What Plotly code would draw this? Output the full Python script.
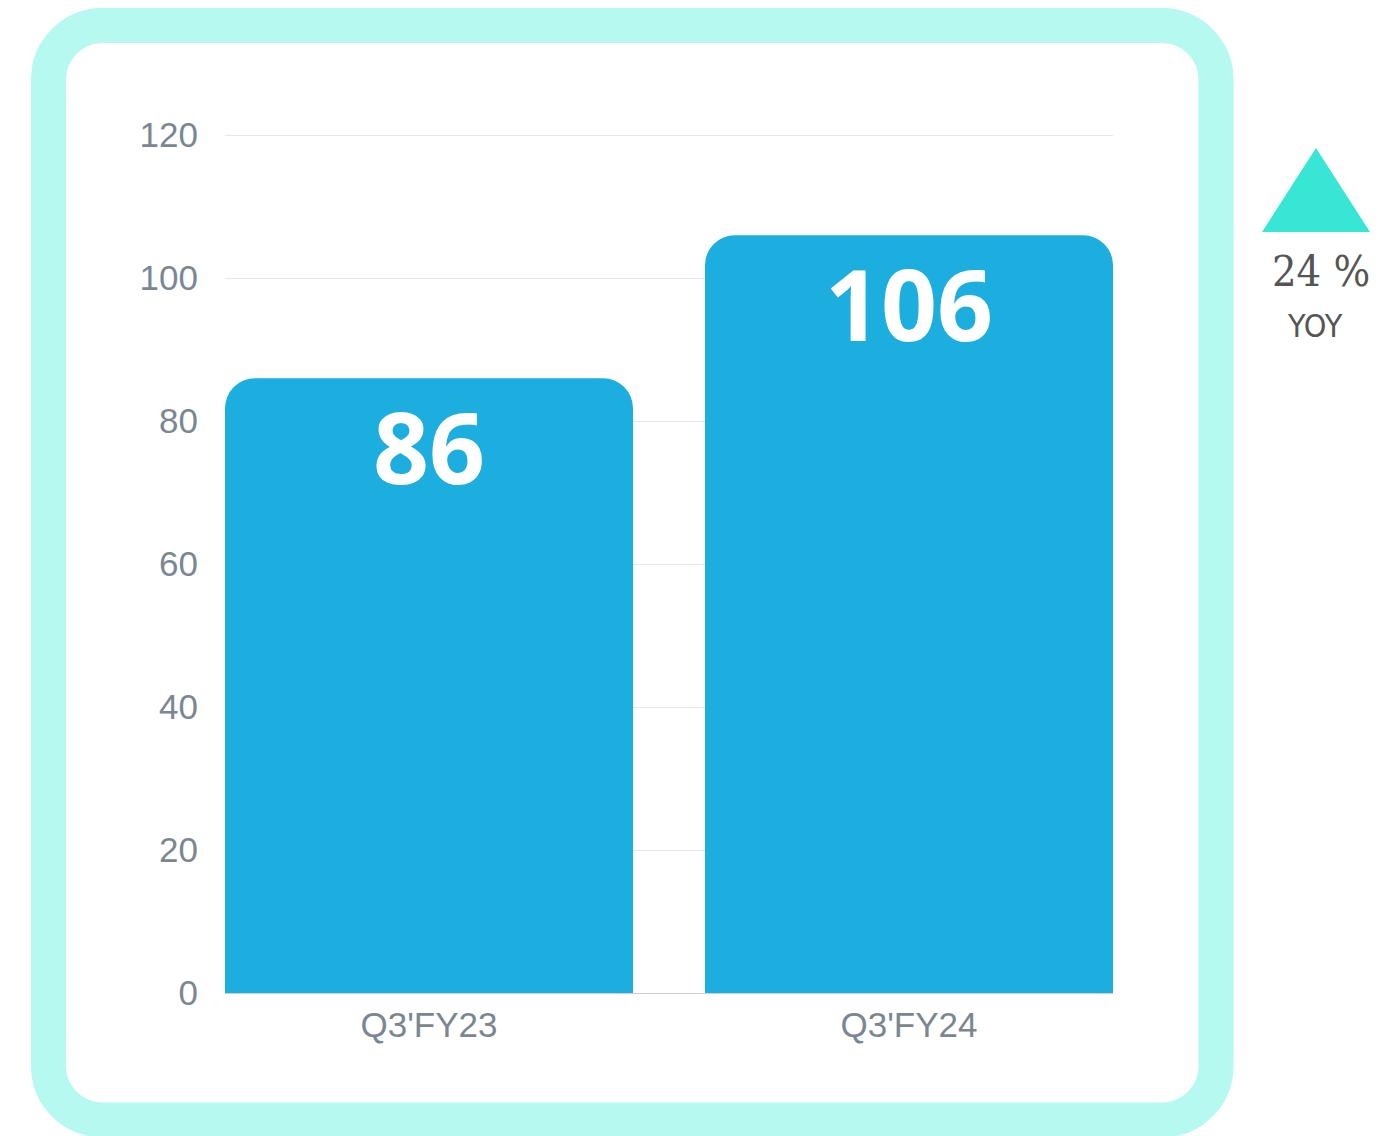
import plotly.graph_objects as go

# chart data
categories = ["Q3'FY23", "Q3'FY24"]
values = [86, 106]
y_ticks = [0, 20, 40, 60, 80, 100, 120]
yoy_change = "24 %"
yoy_label = "YOY"

W, H = 1392, 1136
OFF = 8  # page body margin
PL, PR, PT, PB = 225 - OFF, 1113 - OFF, 134 - OFF, 993 - OFF  # plot area, figure pixels


def px_x(x):
    # screen pixel -> paper fraction
    return (x - OFF - PL) / (PR - PL)


def px_y(y):
    return (PB - (y - OFF)) / (PB - PT)


def rounded_rect(x0, y0, x1, y1, r):
    # rounded rectangle path in paper coords, built from screen pixel values
    k = 0.5523 * r
    pts = [
        f"M {px_x(x0 + r)} {px_y(y0)}",
        f"L {px_x(x1 - r)} {px_y(y0)}",
        f"C {px_x(x1 - r + k)} {px_y(y0)} {px_x(x1)} {px_y(y0 + r - k)} {px_x(x1)} {px_y(y0 + r)}",
        f"L {px_x(x1)} {px_y(y1 - r)}",
        f"C {px_x(x1)} {px_y(y1 - r + k)} {px_x(x1 - r + k)} {px_y(y1)} {px_x(x1 - r)} {px_y(y1)}",
        f"L {px_x(x0 + r)} {px_y(y1)}",
        f"C {px_x(x0 + r - k)} {px_y(y1)} {px_x(x0)} {px_y(y1 - r + k)} {px_x(x0)} {px_y(y1 - r)}",
        f"L {px_x(x0)} {px_y(y0 + r)}",
        f"C {px_x(x0)} {px_y(y0 + r - k)} {px_x(x0 + r - k)} {px_y(y0)} {px_x(x0 + r)} {px_y(y0)}",
        "Z",
    ]
    return " ".join(pts)


bars = go.Bar(
    x=categories,
    y=values,
    width=0.85,
    marker=dict(color="#1daee0", cornerradius=30, line=dict(width=0)),
    hoverinfo="skip",
)

fig = go.Figure(data=[bars])

shapes = [
    dict(
        type="path",
        xref="paper",
        yref="paper",
        path=rounded_rect(48.5, 25.5, 1216, 1120, 54),
        line=dict(color="#b5f9f1", width=35),
        fillcolor="white",
        layer="below",
    ),
    dict(
        type="path",
        xref="paper",
        yref="paper",
        path=f"M {px_x(1262)} {px_y(232)} L {px_x(1316)} {px_y(148)} L {px_x(1370)} {px_y(232)} Z",
        line=dict(width=0),
        fillcolor="#38e6d5",
    ),
]

annotations = [
    dict(
        x=c,
        y=v,
        text=str(v),
        showarrow=False,
        yanchor="middle",
        yshift=-68,
        font=dict(family="Open Sans", size=98, color="white", weight="bold"),
    )
    for c, v in zip(categories, values)
]
annotations += [
    dict(
        x=px_x(1321),
        y=px_y(271),
        xref="paper",
        yref="paper",
        xanchor="center",
        yanchor="middle",
        text=yoy_change,
        showarrow=False,
        font=dict(family="DejaVu Serif Condensed", size=43, color="#555555"),
    ),
    dict(
        x=px_x(1315),
        y=px_y(326),
        xref="paper",
        yref="paper",
        xanchor="center",
        yanchor="middle",
        text=yoy_label,
        showarrow=False,
        font=dict(family="DejaVu Sans Condensed", size=32, color="#555555"),
    ),
]

fig.update_layout(
    width=W,
    height=H,
    margin=dict(l=PL, r=W - PR, t=PT, b=H - PB, pad=0),
    paper_bgcolor="white",
    plot_bgcolor="rgba(0,0,0,0)",
    showlegend=False,
    shapes=shapes,
    annotations=annotations,
    font=dict(family="Liberation Sans", color="#7a8793"),
    xaxis=dict(
        range=[-0.425, 1.425],
        showgrid=False,
        showline=False,
        ticks="",
        tickfont=dict(size=35, color="#7a8793"),
        ticklabelstandoff=8,
    ),
    yaxis=dict(
        range=[0, 120.15],
        tickvals=y_ticks,
        showgrid=True,
        gridcolor="#e8e8e8",
        gridwidth=1,
        zeroline=True,
        zerolinecolor="#cfcfcf",
        zerolinewidth=1,
        showline=False,
        ticks="",
        tickfont=dict(size=35, color="#7a8793"),
        ticklabelstandoff=26,
    ),
)

fig.write_html("out.html")
